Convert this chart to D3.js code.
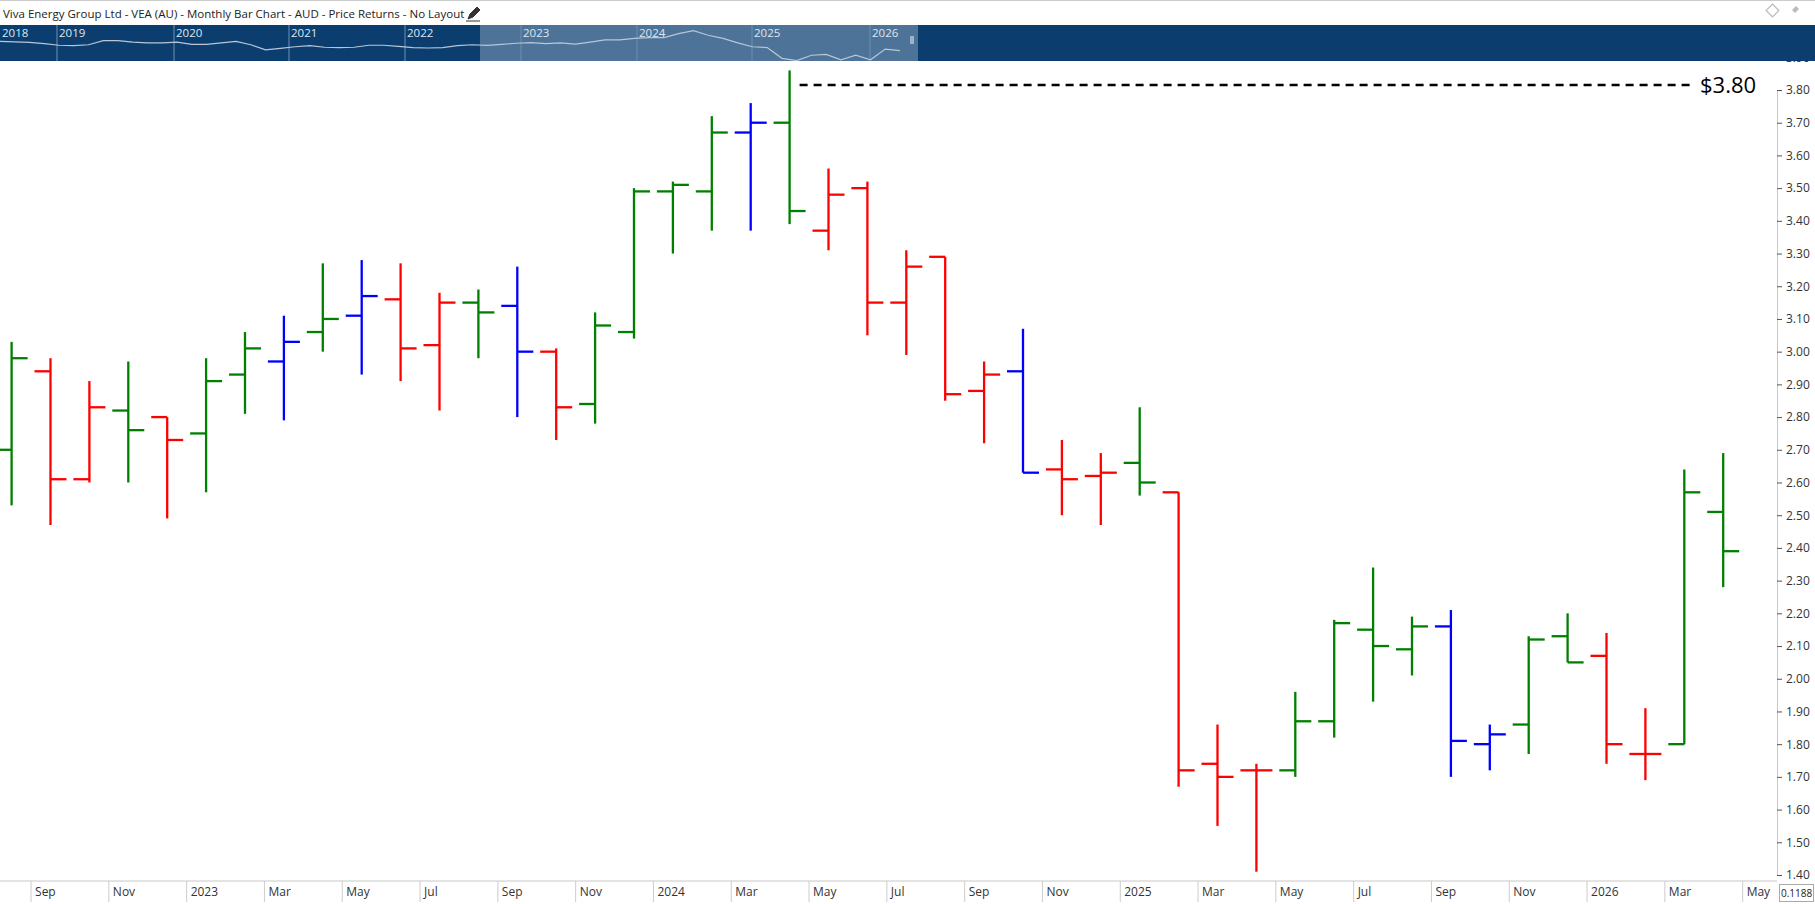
<!DOCTYPE html>
<html><head><meta charset="utf-8">
<script src="https://cdn.jsdelivr.net/npm/d3@7"></script>
<style>body{margin:0;background:#fff;font-family:"Open Sans",sans-serif;overflow:hidden}</style>
</head><body><svg id="c" width="1815" height="904"></svg>
<script>
const months = ["Aug","Sep","Oct","Nov","Dec","2023","Feb","Mar","Apr","May","Jun","Jul","Aug","Sep","Oct","Nov","Dec","2024","Feb","Mar","Apr","May","Jun","Jul","Aug","Sep","Oct","Nov","Dec","2025","Feb","Mar","Apr","May","Jun","Jul","Aug","Sep","Oct","Nov","Dec","2026","Feb","Mar","Apr","May"];
const opens  = [2.70,2.94,2.61,2.82,2.80,2.75,2.93,2.97,3.06,3.11,3.16,3.02,3.15,3.14,3.00,2.84,3.06,3.49,3.49,3.67,3.70,3.37,3.50,3.15,3.29,2.88,2.94,2.64,2.62,2.66,2.57,1.74,1.72,1.72,1.87,2.15,2.09,2.16,1.80,1.86,2.13,2.07,1.77,1.80,2.51];
const highs  = [3.03,2.98,2.91,2.97,2.80,2.98,3.06,3.11,3.27,3.28,3.27,3.18,3.19,3.26,3.01,3.12,3.50,3.52,3.72,3.76,3.86,3.56,3.52,3.31,3.29,2.97,3.07,2.73,2.69,2.83,2.57,1.86,1.74,1.96,2.18,2.34,2.19,2.21,1.86,2.13,2.20,2.14,1.91,2.64,2.69];
const lows   = [2.53,2.47,2.60,2.60,2.49,2.57,2.81,2.79,3.00,2.93,2.91,2.82,2.98,2.80,2.73,2.78,3.04,3.30,3.37,3.37,3.39,3.31,3.05,2.99,2.85,2.72,2.63,2.50,2.47,2.56,1.67,1.55,1.41,1.70,1.82,1.93,2.01,1.70,1.72,1.77,2.05,1.74,1.69,1.80,2.28];
const closes = [2.98,2.61,2.83,2.76,2.73,2.91,3.01,3.03,3.10,3.17,3.01,3.15,3.12,3.00,2.83,3.08,3.49,3.51,3.67,3.70,3.43,3.48,3.15,3.26,2.87,2.93,2.63,2.61,2.63,2.60,1.72,1.70,1.72,1.87,2.17,2.10,2.16,1.81,1.83,2.12,2.05,1.80,1.77,2.57,2.39];
const colors = ["g","r","r","g","r","g","g","b","g","b","r","r","g","b","r","g","g","g","g","b","g","r","r","r","r","r","b","r","r","g","r","r","r","g","g","g","g","b","b","g","g","r","r","g","g"];
const yTicks = [1.40,1.50,1.60,1.70,1.80,1.90,2.00,2.10,2.20,2.30,2.40,2.50,2.60,2.70,2.80,2.90,3.00,3.10,3.20,3.30,3.40,3.50,3.60,3.70,3.80,3.90];
const lastHigh = 3.815, lastHighLabel = "$3.80";
const navYears = ["2018","2019","2020","2021","2022","2023","2024","2025","2026"];
const navValues = [3.0,2.97,2.93,2.85,2.75,2.72,2.78,3.05,3.05,2.95,2.9,2.9,2.95,2.8,2.8,2.9,3.0,2.78,2.45,2.55,2.65,2.72,2.62,2.6,2.62,2.75,2.75,2.68,2.6,2.57,2.6,2.72,2.78,2.74,2.8,2.88,2.92,2.85,2.9,2.82,2.95,3.1,3.1,3.2,3.25,3.25,3.5,3.7,3.4,3.2,2.9,2.65,2.6,1.9,1.75,2.1,2.15,1.8,2.1,1.8,2.5,2.4];

const C = {g:"#008000", r:"#ff0000", b:"#0000ff"};
const svg = d3.select("#c");
const x = d3.scaleLinear().domain([0,1]).range([11.6,50.5]);
const y = d3.scaleLinear().domain([1.40,3.80]).range([875,90]);
const W = 1777;

const ya = svg.append("g").attr("transform",`translate(${W},0)`)
  .call(d3.axisRight(y).tickValues(yTicks).tickFormat(d3.format(".2f")).tickSize(5).tickPadding(4));
ya.select(".domain").attr("stroke","#c8c8c8");
ya.selectAll(".tick line").attr("stroke","#555");
ya.selectAll("text").attr("font-size",12).attr("fill","#333").attr("font-family","Open Sans");

const idx = d3.range(opens.length);
const g = svg.append("g");
idx.forEach(i=>{
  const cx = x(i), col = C[colors[i]];
  g.append("line").attr("x1",cx).attr("x2",cx).attr("y1",y(highs[i])).attr("y2",y(lows[i])).attr("stroke",col).attr("stroke-width",2.3);
  g.append("line").attr("x1",cx-16).attr("x2",cx).attr("y1",y(opens[i])).attr("y2",y(opens[i])).attr("stroke",col).attr("stroke-width",2.3);
  g.append("line").attr("x1",cx).attr("x2",cx+16).attr("y1",y(closes[i])).attr("y2",y(closes[i])).attr("stroke",col).attr("stroke-width",2.3);
});

const hi = d3.maxIndex(highs);
svg.append("line").attr("x1",x(hi)+10).attr("x2",1690).attr("y1",y(lastHigh)).attr("y2",y(lastHigh))
  .attr("stroke","#000").attr("stroke-width",2.5).attr("stroke-dasharray","8,6");
svg.append("text").attr("x",1700).attr("y",y(lastHigh)+8).attr("font-size",22).attr("fill","#000").text(lastHighLabel);

svg.append("rect").attr("x",0).attr("y",881).attr("width",W).attr("height",23).attr("fill","#fff");
svg.append("line").attr("x1",0).attr("x2",W).attr("y1",881).attr("y2",881).attr("stroke","#c8c8c8");
months.forEach((m,i)=>{
  if(i%2===0) return;
  const bx = x(i)-19.45;
  svg.append("line").attr("x1",bx).attr("x2",bx).attr("y1",881).attr("y2",902).attr("stroke","#ccc");
  svg.append("text").attr("x",bx+4).attr("y",896).attr("font-size",12).attr("fill","#333").text(m);
});
svg.append("rect").attr("x",1779.5).attr("y",884.5).attr("width",34).attr("height",17).attr("fill","#fff").attr("stroke","#aaa");
svg.append("text").attr("x",1781).attr("y",897).attr("font-size",10).attr("fill","#222").text("0.1188");

svg.append("rect").attr("x",0).attr("y",0).attr("width",1815).attr("height",25).attr("fill","#fff");
svg.append("line").attr("x1",0).attr("x2",1815).attr("y1",0.5).attr("y2",0.5).attr("stroke","#ccc");
svg.append("text").attr("x",3).attr("y",18).attr("font-size",11.5).attr("fill","#222")
  .text("Viva Energy Group Ltd - VEA (AU) - Monthly Bar Chart - AUD - Price Returns - No Layout");
svg.append("path").attr("d","M468,19 l2,-5 l7,-7 l3,3 l-7,7 z M466,21 h14").attr("fill","#333").attr("stroke","#333").attr("stroke-width",1);
svg.append("rect").attr("x",1768).attr("y",6).attr("width",9).attr("height",9).attr("transform","rotate(45 1772.5 10.5)").attr("fill","none").attr("stroke","#bbb").attr("stroke-width",1.2);
svg.append("path").attr("d","M1790,18 l5,-5 l-3,-3 l4,-4 l3,3 l-4,4 z").attr("fill","#bbb");

svg.append("rect").attr("x",0).attr("y",25).attr("width",1815).attr("height",36).attr("fill","#0b3e6f");
svg.append("rect").attr("x",480).attr("y",25).attr("width",438).attr("height",36).attr("fill","#4d7399");
const nx = d3.scaleLinear().domain([0,navValues.length-1]).range([0,900]);
const ny = d3.scaleLinear().domain([1.4,4.0]).range([66,26]);
const yearX = [0,57,174,289,405,521,637,752,870];
navYears.forEach((yr,i)=>{
  const px = yearX[i];
  if(i>0) svg.append("line").attr("x1",px).attr("x2",px).attr("y1",25).attr("y2",61).attr("stroke","#6f8fb0").attr("stroke-width",1);
  svg.append("text").attr("x",px+2).attr("y",37).attr("font-size",11.5).attr("fill","#dfe7ef").text(yr);
});
svg.append("path").datum(navValues).attr("d",d3.line().x((d,i)=>nx(i)).y(d=>ny(d)))
  .attr("fill","none").attr("stroke","#b8c6d6").attr("stroke-width",1.2);
svg.append("rect").attr("x",910).attr("y",36).attr("width",4).attr("height",8).attr("fill","#9fb3c8");
</script></body></html>
